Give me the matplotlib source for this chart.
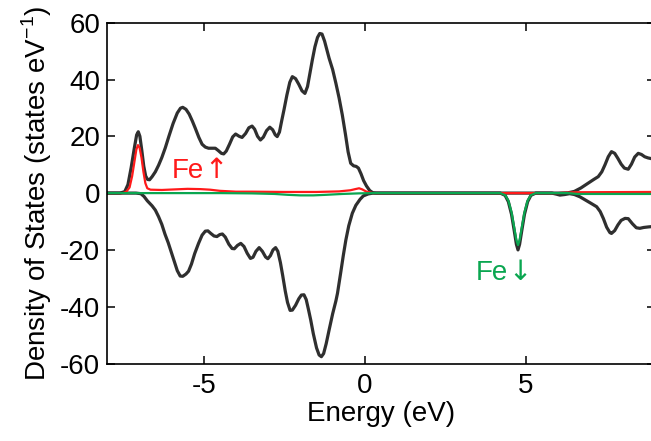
import matplotlib
matplotlib.use('Agg')
import matplotlib.pyplot as plt

plt.rcParams['font.family'] = ['Liberation Sans', 'DejaVu Sans']
plt.rcParams['axes.unicode_minus'] = False
plt.rcParams['mathtext.fontset'] = 'custom'
plt.rcParams['mathtext.rm'] = 'Liberation Sans'

# total DOS, spin up
up_x = [-8.0, -7.6, -7.45, -7.35, -7.25, -7.15, -7.08, -7.03, -6.98, -6.92, -6.86, -6.8,
        -6.74, -6.68, -6.6, -6.5, -6.4, -6.3, -6.19, -6.08, -5.95, -5.82, -5.72, -5.65,
        -5.55, -5.45, -5.35, -5.26, -5.15, -5.05, -4.95, -4.85, -4.75, -4.64, -4.55,
        -4.45, -4.38, -4.3, -4.2, -4.1, -4.01, -3.9, -3.81, -3.7, -3.6, -3.5, -3.42,
        -3.33, -3.24, -3.15, -3.05, -2.95, -2.86, -2.78, -2.72, -2.65, -2.58, -2.51,
        -2.42, -2.33, -2.25, -2.15, -2.05, -1.95, -1.86, -1.78, -1.7, -1.63, -1.55,
        -1.47, -1.4, -1.33, -1.25, -1.18, -1.11, -1.0, -0.9, -0.8, -0.7, -0.6, -0.52,
        -0.44, -0.35, -0.27, -0.2, -0.12, -0.04, 0.05, 0.15, 0.25, 0.35, 3.0, 6.0,
        6.3, 6.5, 6.7, 6.9, 7.1, 7.24, 7.35, 7.45, 7.55, 7.65, 7.75, 7.85, 7.95, 8.05,
        8.17, 8.27, 8.37, 8.48, 8.58, 8.68, 8.78, 8.9, 9.0]
up_y = [0.0, 0.0, 0.5, 3.0, 9.0, 16.0, 20.5, 21.6, 20.0, 15.0, 9.5, 6.0,
        4.8, 4.7, 5.8, 7.5, 9.8, 12.5, 16.0, 20.0, 24.5, 28.2, 29.9, 30.2,
        29.5, 27.8, 25.3, 22.8, 19.6, 17.2, 16.2, 15.8, 15.8, 15.8, 15.0,
        14.0, 13.8, 14.8, 17.2, 19.8, 20.8, 20.0, 19.6, 21.0, 23.0, 23.6, 22.5,
        20.0, 18.7, 19.7, 22.0, 23.2, 22.3, 20.5, 19.9, 21.5, 25.5, 29.3,
        34.5, 39.0, 41.0, 40.3, 38.3, 36.0, 35.1, 37.5, 42.5, 46.9, 51.5,
        54.8, 56.2, 56.0, 53.5, 50.5, 47.5, 43.5, 38.7, 33.5, 27.5, 20.5, 14.5,
        10.5, 9.6, 9.4, 8.8, 6.8, 4.4, 2.5, 0.9, 0.1, 0.0, 0.0, 0.0,
        0.1, 0.6, 1.8, 3.3, 4.8, 5.8, 7.5, 10.0, 12.8, 14.6, 14.0, 12.2, 10.2, 8.8,
        8.4, 10.2, 12.7, 14.0, 13.6, 12.8, 12.4, 12.1, 12.0]

# total DOS, spin down
dn_x = [-8.0, -7.1, -6.95, -6.85, -6.75, -6.6, -6.5, -6.4, -6.3, -6.2, -6.1, -6.0,
        -5.9, -5.82, -5.73, -5.65, -5.55, -5.47, -5.38, -5.28, -5.16, -5.05, -4.95,
        -4.87, -4.78, -4.68, -4.59, -4.5, -4.42, -4.33, -4.22, -4.12, -4.05, -3.95,
        -3.85, -3.75, -3.65, -3.55, -3.47, -3.38, -3.28, -3.18, -3.08, -3.01, -2.93,
        -2.85, -2.77, -2.7, -2.62, -2.55, -2.47, -2.4, -2.32, -2.25, -2.15, -2.05,
        -1.97, -1.89, -1.82, -1.75, -1.68, -1.6, -1.5, -1.42, -1.35, -1.28, -1.2,
        -1.11, -1.0, -0.9, -0.85, -0.75, -0.67, -0.59, -0.5, -0.39, -0.28, -0.15,
        -0.05, 0.1, 0.25, 4.2, 4.35, 4.45, 4.55, 4.63, 4.7, 4.75, 4.8, 4.87, 4.95,
        5.05, 5.15, 5.3, 5.8, 5.95, 6.05, 6.2, 6.35, 6.5, 6.67, 6.85, 7.0, 7.19, 7.3,
        7.4, 7.5, 7.6, 7.65, 7.75, 7.85, 7.95, 8.07, 8.17, 8.3, 8.42, 8.53, 8.65,
        8.8, 9.0]
dn_y = [0.0, 0.0, -0.2, -1.2, -2.7, -4.5, -6.0, -8.3, -11.0, -14.5, -17.5, -21.0,
        -24.5, -27.3, -29.2, -29.3, -28.5, -27.5, -25.0, -21.3, -17.7, -14.8, -13.4,
        -13.3, -14.2, -15.1, -15.3, -14.6, -14.4, -15.5, -18.0, -19.5, -19.6, -18.4,
        -17.7, -18.8, -21.2, -23.0, -22.6, -20.5, -19.2, -20.5, -22.5, -23.1, -22.0,
        -20.0, -19.2, -20.5, -24.5, -29.0, -34.5, -38.5, -41.3, -41.2, -39.5, -37.2,
        -35.9, -35.8, -37.5, -41.0, -44.7, -49.5, -54.5, -57.0, -57.6, -56.5, -53.0,
        -48.2, -42.5, -38.0, -35.3, -28.0, -22.0, -16.5, -11.5, -7.1, -4.3, -2.2,
        -1.0, -0.3, 0.0, 0.0, -0.8, -3.0, -7.5, -13.0, -18.0, -20.0, -18.0, -13.0, -7.5,
        -3.0, -0.8, 0.0, 0.0, -0.4, -0.7, -0.5, -0.2, -0.5, -1.3, -2.5, -3.5, -4.8, -6.5,
        -9.0, -12.0, -13.9, -14.2, -13.2, -11.2, -9.6, -8.9, -9.0, -10.8, -12.2, -12.4, -12.1,
        -11.9, -11.7]

# Fe spin up
fe_up_x = [-8.0, -7.5, -7.4, -7.3, -7.22, -7.15, -7.09, -7.04, -6.99, -6.93, -6.87,
           -6.81, -6.75, -6.65, -6.3, -5.9, -5.5, -5.1, -4.8, -4.5, -4.0, -3.5, -2.5,
           -1.5, -0.8, -0.45, -0.3, -0.18, -0.08, 0.05, 0.25, 4.0, 6.0, 6.5, 9.0]
fe_up_y = [0.0, 0.0, 0.5, 2.0, 6.0, 11.0, 15.3, 16.9, 16.0, 12.5, 7.5,
           3.5, 1.7, 1.2, 1.1, 1.3, 1.5, 1.4, 1.2, 0.8, 0.5, 0.5, 0.4,
           0.4, 0.6, 1.0, 1.4, 1.7, 1.3, 0.5, 0.0, 0.0, 0.0, 0.3, 0.4]

# Fe spin down
fe_dn_x = [-8.0, -4.5, -3.5, -2.8, -2.4, -2.0, -1.6, -1.2, -0.7, -0.2, 0.2, 4.2,
           4.35, 4.45, 4.55, 4.63, 4.7, 4.75, 4.8, 4.87, 4.95, 5.05, 5.15, 5.3,
           6.3, 6.6, 9.0]
fe_dn_y = [0.0, 0.0, -0.1, -0.3, -0.6, -0.8, -0.8, -0.6, -0.3, -0.1, 0.0, 0.0,
           -0.7, -2.6, -6.8, -12.0, -16.5, -18.3, -16.5, -12.0, -6.8, -2.6, -0.7, 0.0,
           0.0, -0.3, -0.3]

black = '#2f2f2f'
red = '#ff1a1a'
green = '#0aa650'

fig = plt.figure(figsize=(6.51, 4.41), dpi=100)
ax = fig.add_axes([107 / 651, 1 - 363.5 / 441, (655 - 107) / 651, (363.5 - 22.7) / 441])

ax.plot(up_x, up_y, color=black, lw=2.3, solid_joinstyle='round')
ax.plot(dn_x, dn_y, color=black, lw=2.3, solid_joinstyle='round')
ax.plot(fe_up_x, fe_up_y, color=red, lw=1.6, solid_joinstyle='round')
ax.plot(fe_dn_x, fe_dn_y, color=green, lw=1.6, solid_joinstyle='round')

# labels: "Fe" in Liberation, arrows in DejaVu (taller glyph)
ax.text(-6.0, 5.2, 'Fe', color=red, fontsize=20, ha='left', va='baseline')
ax.text(-4.98, 5.2, '\u2191', color=red, fontsize=20, ha='left', va='baseline',
        family='DejaVu Sans')
ax.text(3.45, -30.6, 'Fe', color=green, fontsize=20, ha='left', va='baseline')
ax.text(4.46, -30.6, '\u2193', color=green, fontsize=20, ha='left', va='baseline',
        family='DejaVu Sans')

ax.set_xlim(-8, 9)
ax.set_ylim(-60, 60)
ax.set_xticks([-5, 0, 5])
ax.set_yticks([-60, -40, -20, 0, 20, 40, 60])
ax.tick_params(direction='in', length=6, width=1.1, top=True, right=True,
               labelsize=20)
ax.tick_params(axis='x', pad=7)
ax.tick_params(axis='y', pad=5)
for s in ax.spines.values():
    s.set_linewidth(1.2)

ax.set_xlabel('Energy (eV)', fontsize=20, labelpad=1)
ax.set_ylabel('Density of States (states eV$^{\\mathrm{-1}}$)', fontsize=20, labelpad=4)

fig.savefig('out.png', dpi=100)
